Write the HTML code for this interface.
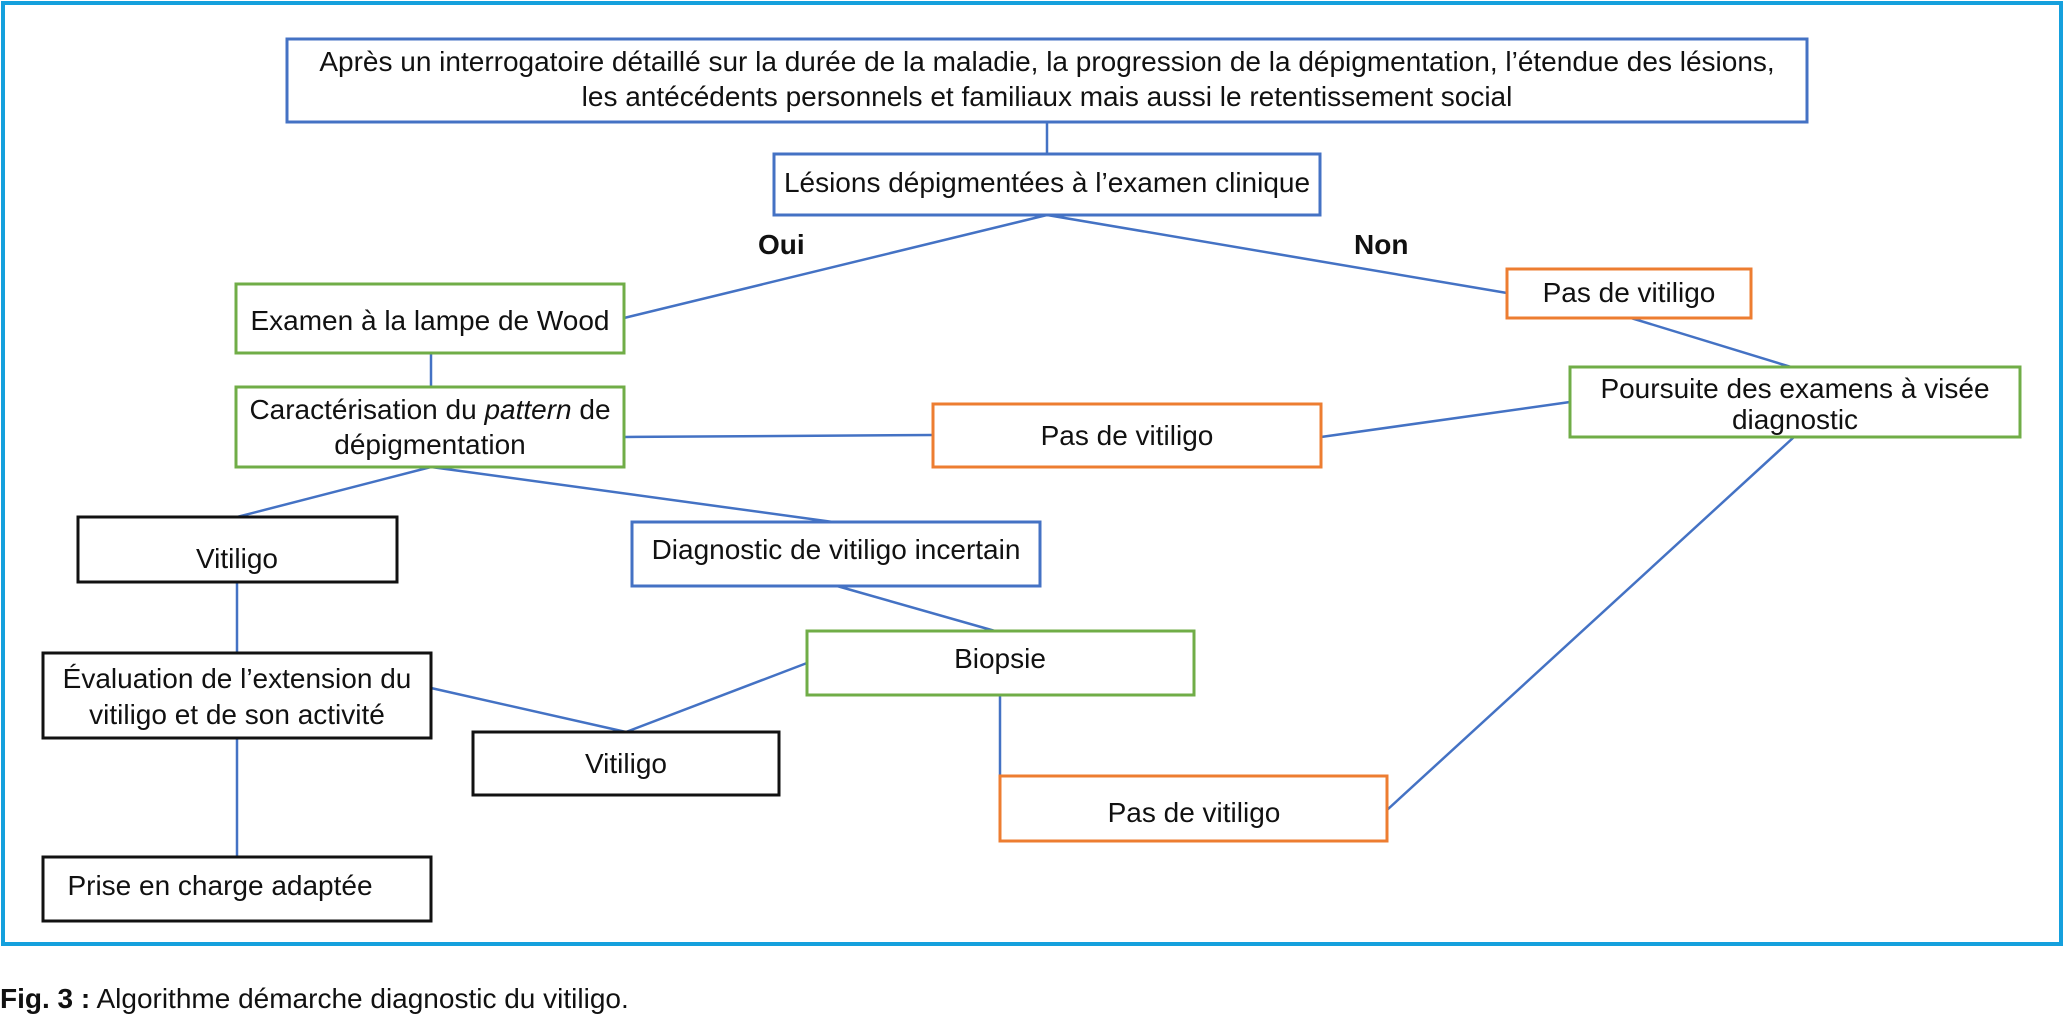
<!DOCTYPE html>
<html><head><meta charset="utf-8"><style>
html,body{margin:0;padding:0;background:#fff;}
svg{display:block;}
text{font-family:"Liberation Sans Narrow","Liberation Sans",sans-serif;font-size:28px;fill:#111;}
</style></head><body>
<svg width="2067" height="1016" viewBox="0 0 2067 1016" xmlns="http://www.w3.org/2000/svg">
<rect x="3" y="3" width="2058" height="941" fill="none" stroke="#15a0dd" stroke-width="4"/>
<g stroke="#4472c4" stroke-width="2.5" fill="none">
<line x1="1047" y1="122" x2="1047" y2="153"/>
<line x1="1047" y1="215" x2="624" y2="318"/>
<line x1="1047" y1="215" x2="1507" y2="293"/>
<line x1="431" y1="353" x2="431" y2="387"/>
<line x1="624" y1="437" x2="933" y2="435"/>
<line x1="1631" y1="318" x2="1791" y2="367"/>
<line x1="1321" y1="437" x2="1570" y2="402"/>
<line x1="1794" y1="437" x2="1387" y2="810"/>
<line x1="431" y1="467" x2="237" y2="517"/>
<line x1="431" y1="467" x2="833" y2="522"/>
<line x1="237" y1="582" x2="237" y2="653"/>
<line x1="237" y1="738" x2="237" y2="857"/>
<line x1="837" y1="586" x2="995" y2="631"/>
<line x1="807" y1="663" x2="626" y2="732"/>
<line x1="431" y1="688" x2="626" y2="732"/>
<line x1="1000" y1="695" x2="1000" y2="776"/>
</g>
<g fill="#fff" stroke-width="3">
<rect x="287" y="39" width="1520" height="83" stroke="#4472c4"/>
<rect x="774" y="154" width="546" height="61" stroke="#4472c4"/>
<rect x="1507" y="269" width="244" height="49" stroke="#ed7d31"/>
<rect x="236" y="284" width="388" height="69" stroke="#70ad47"/>
<rect x="236" y="387" width="388" height="80" stroke="#70ad47"/>
<rect x="933" y="404" width="388" height="63" stroke="#ed7d31"/>
<rect x="1570" y="367" width="450" height="70" stroke="#70ad47"/>
<rect x="78" y="517" width="319" height="65" stroke="#111"/>
<rect x="43" y="653" width="388" height="85" stroke="#111"/>
<rect x="43" y="857" width="388" height="64" stroke="#111"/>
<rect x="632" y="522" width="408" height="64" stroke="#4472c4"/>
<rect x="807" y="631" width="387" height="64" stroke="#70ad47"/>
<rect x="473" y="732" width="306" height="63" stroke="#111"/>
<rect x="1000" y="776" width="387" height="65" stroke="#ed7d31"/>
</g>
<g text-anchor="middle">
<text x="1047" y="71">Après un interrogatoire détaillé sur la durée de la maladie, la progression de la dépigmentation, l’étendue des lésions,</text>
<text x="1047" y="106">les antécédents personnels et familiaux mais aussi le retentissement social</text>
<text x="1047" y="192">Lésions dépigmentées à l’examen clinique</text>
<text x="1629" y="302">Pas de vitiligo</text>
<text x="430" y="330">Examen à la lampe de Wood</text>
<text x="430" y="419">Caractérisation du <tspan font-style="italic">pattern</tspan> de</text>
<text x="430" y="454">dépigmentation</text>
<text x="1127" y="445">Pas de vitiligo</text>
<text x="1795" y="398">Poursuite des examens à visée</text>
<text x="1795" y="429">diagnostic</text>
<text x="237" y="568">Vitiligo</text>
<text x="237" y="688">Évaluation de l’extension du</text>
<text x="237" y="724">vitiligo et de son activité</text>
<text x="220" y="895">Prise en charge adaptée</text>
<text x="836" y="559">Diagnostic de vitiligo incertain</text>
<text x="1000" y="668">Biopsie</text>
<text x="626" y="773">Vitiligo</text>
<text x="1194" y="822">Pas de vitiligo</text>
</g>
<text x="758" y="254" font-weight="bold">Oui</text>
<text x="1354" y="254" font-weight="bold">Non</text>
<text x="0" y="1008"><tspan font-weight="bold">Fig. 3 :</tspan> Algorithme démarche diagnostic du vitiligo.</text>
</svg>
</body></html>
